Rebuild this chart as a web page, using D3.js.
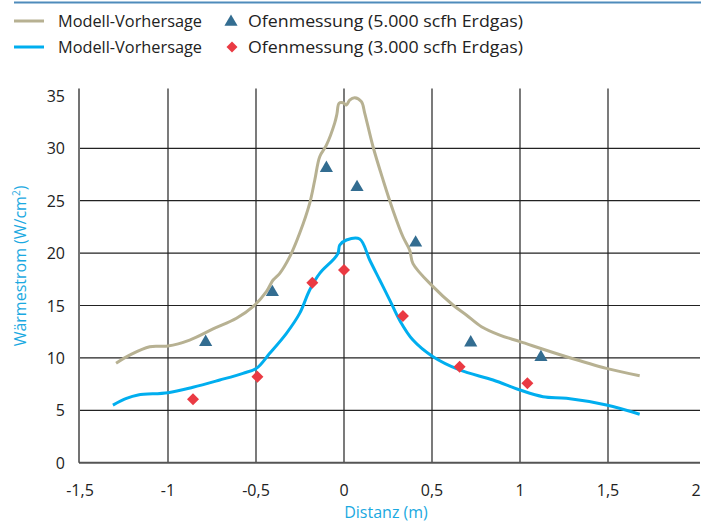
<!DOCTYPE html>
<html><head><meta charset="utf-8">
<script src="https://cdn.jsdelivr.net/npm/d3@7"></script>
<style>body{margin:0;background:#fff}svg{display:block}text{font-family:"Open Sans",sans-serif}</style>
</head><body>
<svg id="c" width="716" height="525"></svg>
<script>
// Model curve, 5.000 scfh (tan)
const tanX = [-1.295,-1.218,-1.104,-1.0,-0.877,-0.744,-0.611,-0.517,-0.441,-0.403,-0.365,-0.308,-0.252,-0.195,-0.166,-0.138,-0.1,-0.053,-0.04,-0.028,-0.006,0.014,0.032,0.061,0.099,0.118,0.165,0.222,0.278,0.335,0.373,0.392,0.506,0.619,0.695,0.781,0.885,1.0,1.264,1.491,1.68];
const tanY = [9.5,10.27,11.07,11.13,11.7,12.76,13.78,14.89,16.32,17.43,18.07,19.66,21.89,24.75,26.98,29.2,30.3,32.4,33.3,34.3,34.35,34.13,34.6,34.83,34.45,33.34,30.15,26.98,24.1,21.56,20.3,19.0,16.8,15.05,14.1,12.98,12.18,11.55,10.11,9.0,8.3];
// Model curve, 3.000 scfh (blue)
const blueX = [-1.313,-1.236,-1.17,-1.0,-0.858,-0.706,-0.574,-0.498,-0.422,-0.327,-0.252,-0.195,-0.138,-0.063,-0.034,-0.024,0.014,0.089,0.146,0.203,0.26,0.316,0.392,0.506,0.657,0.847,1.0,1.131,1.264,1.491,1.68];
const blueY = [5.5,6.14,6.46,6.68,7.2,7.89,8.53,9.0,10.44,12.35,14.25,16.48,18.07,19.34,19.98,20.77,21.25,21.35,19.34,17.43,15.52,13.6,11.7,10.11,8.85,7.89,6.94,6.3,6.14,5.5,4.62];
// Measurements 5.000 scfh (triangles)
const triX = [-0.786,-0.407,-0.1,0.074,0.407,0.72,1.119];
const triY = [11.5,16.26,28.1,26.28,20.99,11.45,10.06];
// Measurements 3.000 scfh (diamonds)
const diaX = [-0.858,-0.492,-0.18,0.0,0.335,0.657,1.042];
const diaY = [6.05,8.21,17.18,18.39,14.0,9.16,7.58];
const xTicks = [-1.5,-1,-0.5,0,0.5,1,1.5,2];
const yTicks = [0,5,10,15,20,25,30,35];
const legendLabels = ["Modell-Vorhersage","Ofenmessung (5.000 scfh Erdgas)","Modell-Vorhersage","Ofenmessung (3.000 scfh Erdgas)"];

const svg = d3.select("#c");
const x = d3.scaleLinear().domain([-1.5,2]).range([80,696]);
const y = d3.scaleLinear().domain([0,30]).range([462.7,148.3]);
const fmt = d => String(d).replace(".",",");
const tan="#b7b192", blue="#00aeef", triC="#336d91", diaC="#ea3a43", axC="#1aa9e1";

// top rule
svg.append("line").attr("x1",14).attr("x2",701).attr("y1",2.5).attr("y2",2.5).attr("stroke","#4f8bbb").attr("stroke-width",2);

// grid
const g = svg.append("g");
xTicks.slice(1,-1).forEach(t=>{
  g.append("line").attr("x1",x(t)).attr("x2",x(t)).attr("y1",y(35.7)).attr("y2",y(0)).attr("stroke","#222").attr("stroke-width",1.2);
});
yTicks.slice(1,-1).forEach(t=>{
  g.append("line").attr("x1",x(-1.5)).attr("x2",700).attr("y1",y(t)).attr("y2",y(t)).attr("stroke","#222").attr("stroke-width",1.2);
});
// axes
g.append("line").attr("x1",x(-1.5)-1).attr("x2",700).attr("y1",y(0)).attr("y2",y(0)).attr("stroke","#555").attr("stroke-width",2);
g.append("line").attr("x1",x(-1.5)-1).attr("x2",x(-1.5)-1).attr("y1",y(35.7)).attr("y2",y(0)).attr("stroke","#444").attr("stroke-width",1.5);

// tick labels
xTicks.forEach(t=>{
  svg.append("text").attr("x",x(t)).attr("y",496).attr("text-anchor","middle").attr("font-size",16).attr("fill","#222").text(fmt(t));
});
yTicks.forEach(t=>{
  svg.append("text").attr("x",65).attr("y",y(t)+6).attr("text-anchor","end").attr("font-size",16).attr("fill","#222").text(t);
});
svg.append("text").attr("x",386).attr("y",518).attr("text-anchor","middle").attr("font-size",16).attr("fill",axC).text("Distanz (m)");
const yt = svg.append("text").attr("transform","translate(26,266) rotate(-90)").attr("text-anchor","middle").attr("font-size",16).attr("fill",axC);
yt.append("tspan").text("Wärmestrom (W/cm");
yt.append("tspan").attr("font-size",10).attr("dy",-6).text("2");
yt.append("tspan").attr("dy",6).text(")");

// curves
const line = d3.line().x(d=>x(d[0])).y(d=>y(d[1])).curve(d3.curveCatmullRom.alpha(0.5));
svg.append("path").attr("d",line(d3.zip(tanX,tanY))).attr("fill","none").attr("stroke",tan).attr("stroke-width",3);
svg.append("path").attr("d",line(d3.zip(blueX,blueY))).attr("fill","none").attr("stroke",blue).attr("stroke-width",3);

// markers
const tri = d3.symbol().type(d3.symbolTriangle).size(75);
const dia = d3.symbol().type(d3.symbolSquare).size(72);
d3.zip(triX,triY).forEach(p=>{
  svg.append("path").attr("d",tri()).attr("transform",`translate(${x(p[0])},${y(p[1])})`).attr("fill",triC);
});
d3.zip(diaX,diaY).forEach(p=>{
  svg.append("path").attr("d",dia()).attr("transform",`translate(${x(p[0])},${y(p[1])}) rotate(45)`).attr("fill",diaC);
});

// legend
const lg = svg.append("g");
lg.append("line").attr("x1",14).attr("x2",44).attr("y1",21).attr("y2",21).attr("stroke",tan).attr("stroke-width",3);
lg.append("line").attr("x1",14).attr("x2",44).attr("y1",47).attr("y2",47).attr("stroke",blue).attr("stroke-width",3);
lg.append("path").attr("d",tri()).attr("transform","translate(231,22)").attr("fill",triC);
lg.append("path").attr("d",d3.symbol().type(d3.symbolSquare).size(60)()).attr("transform","translate(232,47) rotate(45)").attr("fill",diaC);
const lt = [[58,27,0,144],[248,27,1,275],[58,53,2,144],[248,53,3,275]];
lt.forEach(a=>{
  lg.append("text").attr("x",a[0]).attr("y",a[1]).attr("font-size",17).attr("fill","#222")
    .attr("textLength",a[3]).attr("lengthAdjust","spacingAndGlyphs").text(legendLabels[a[2]]);
});
</script>
</body></html>
